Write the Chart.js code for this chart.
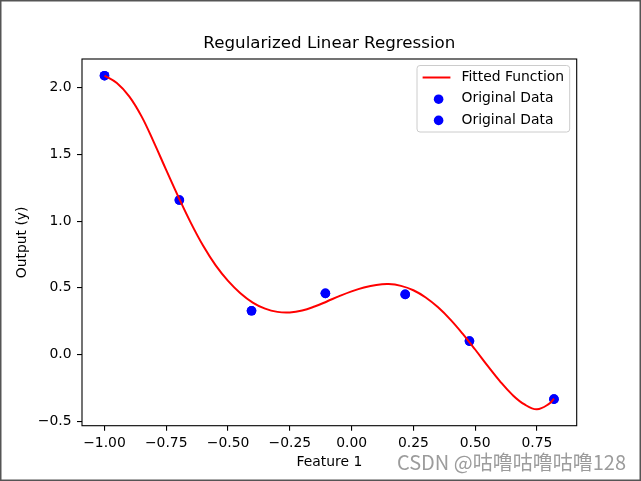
<!DOCTYPE html>
<html>
<head>
<meta charset="utf-8">
<script src="https://cdn.jsdelivr.net/npm/chart.js@4"></script>
<style>
  html, body { margin: 0; padding: 0; background: #fff; }
  #wrap { width: 641px; height: 481px; }
</style>
</head>
<body>
<div id="wrap"><canvas id="regChart" width="641" height="481"></canvas></div>
<script>
// original samples
const dataX = [-1.0, -0.697, -0.405, -0.106, 0.217, 0.477, 0.819];
const dataY = [2.09, 1.158, 0.328, 0.459, 0.451, 0.101, -0.334];

// fitted curve
const fitX = [-1.0, -0.95, -0.9, -0.85, -0.8, -0.75, -0.7, -0.65, -0.6, -0.55,
              -0.5, -0.45, -0.4, -0.35, -0.3, -0.25, -0.2, -0.15, -0.1, -0.05,
              0.0, 0.05, 0.1, 0.15, 0.2, 0.25, 0.3, 0.35, 0.4, 0.45,
              0.5, 0.55, 0.6, 0.65, 0.7, 0.75, 0.8, 0.819];
const fitY = [2.091, 2.035, 1.935, 1.785, 1.590, 1.382, 1.178, 0.985, 0.813, 0.668,
              0.552, 0.460, 0.390, 0.344, 0.320, 0.316, 0.330, 0.360, 0.398, 0.438,
              0.474, 0.503, 0.522, 0.528, 0.515, 0.482, 0.428, 0.354, 0.262, 0.155,
              0.038, -0.083, -0.199, -0.300, -0.374, -0.410, -0.368, -0.330];

const xTicks = [-1.0, -0.75, -0.5, -0.25, 0.0, 0.25, 0.5, 0.75];
const yTicks = [-0.5, 0.0, 0.5, 1.0, 1.5, 2.0];

const FONT = "'DejaVu Sans', 'Liberation Sans', sans-serif";

function fmt(v, d) {
    const s = Math.abs(v).toFixed(d);
    return (v < 0 && Number(s) !== 0 ? '\u2212' : '') + s;
}

// title, spines, in-axes legend, watermark and outer frame
const decorations = {
    id: 'decorations',
    afterDraw(chart) {
        const c = chart.ctx;
        const a = chart.chartArea;
        c.save();

        // spines
        c.strokeStyle = '#000';
        c.lineWidth = 1.1;
        c.strokeRect(a.left, a.top, a.right - a.left, a.bottom - a.top);

        // title
        c.fillStyle = '#000';
        c.font = '16.7px ' + FONT;
        c.textAlign = 'center';
        c.textBaseline = 'middle';
        c.fillText('Regularized Linear Regression', (a.left + a.right) / 2, 44);

        // legend
        const ds = chart.data.datasets;
        c.font = '13.9px ' + FONT;
        let tw = 0;
        ds.forEach(d => { tw = Math.max(tw, c.measureText(d.label).width); });
        const boxR = a.right - 7;
        const boxW = 5.6 + 27.8 + 11.1 + tw + 5.6;
        const boxL = boxR - boxW;
        const boxT = 65.5, rowH = 21.2, boxH = 66.5;
        c.fillStyle = 'rgba(255,255,255,0.8)';
        c.strokeStyle = '#cccccc';
        c.lineWidth = 1;
        c.beginPath();
        c.roundRect(boxL, boxT, boxW, boxH, 3);
        c.fill();
        c.stroke();
        ds.forEach((d, i) => {
            const y = boxT + 12 + i * rowH;
            const hx = boxL + 5.6;
            if (d.showLine) {
                c.strokeStyle = d.borderColor;
                c.lineWidth = d.borderWidth;
                c.beginPath();
                c.moveTo(hx, y);
                c.lineTo(hx + 27.8, y);
                c.stroke();
            } else {
                c.fillStyle = d.backgroundColor;
                c.beginPath();
                c.arc(hx + 16, y + 0.5, d.pointRadius, 0, Math.PI * 2);
                c.fill();
            }
            c.fillStyle = '#000';
            c.textAlign = 'left';
            c.textBaseline = 'middle';
            c.fillText(d.label, hx + 27.8 + 11.1, y);
        });

        // watermark
        c.font = "20px 'Noto Sans CJK SC', sans-serif";
        c.fillStyle = '#9c9c9c';
        c.textAlign = 'right';
        c.textBaseline = 'middle';
        c.fillText('CSDN @咕噜咕噜咕噜128', 626, 462);

        // outer frame of the screenshot
        c.strokeStyle = '#555';
        c.lineWidth = 1.5;
        c.strokeRect(0.75, 0.75, 639.5, 479.5);
        c.restore();
    }
};

document.addEventListener("DOMContentLoaded", function () {
    const ctx = document.getElementById('regChart').getContext('2d');

    const fitted = fitX.map((x, i) => ({ x: x, y: fitY[i] }));
    const points = dataX.map((x, i) => ({ x: x, y: dataY[i] }));

    new Chart(ctx, {
        type: 'scatter',
        data: {
            datasets: [{
                label: 'Fitted Function',
                data: fitted,
                showLine: true,
                borderColor: '#ff0000',
                backgroundColor: '#ff0000',
                borderWidth: 2,
                pointRadius: 0,
                tension: 0.4
            }, {
                label: 'Original Data',
                data: points,
                backgroundColor: '#0000ff',
                borderColor: '#0000ff',
                borderWidth: 0,
                pointRadius: 4.8
            }, {
                label: 'Original Data',
                data: points,
                backgroundColor: '#0000ff',
                borderColor: '#0000ff',
                borderWidth: 0,
                pointRadius: 4.8
            }]
        },
        options: {
            responsive: false,
            animation: false,
            layout: {
                padding: { top: 59, right: 64.3, bottom: 0, left: 0 }
            },
            plugins: {
                legend: { display: false },
                tooltip: { enabled: false },
                title: { display: false }
            },
            scales: {
                x: {
                    type: 'linear',
                    min: -1.091,
                    max: 0.911,
                    afterBuildTicks: s => { s.ticks = xTicks.map(v => ({ value: v })); },
                    afterFit: s => { s.height = 55.3; },
                    ticks: {
                        color: '#000',
                        padding: 4,
                        maxRotation: 0,
                        font: { family: FONT, size: 13.9 },
                        callback: v => fmt(v, 2)
                    },
                    grid: { drawOnChartArea: false, drawTicks: true, tickLength: 5, color: '#000', lineWidth: 1.1 },
                    border: { display: false },
                    title: {
                        display: true,
                        text: 'Feature 1',
                        color: '#000',
                        font: { family: FONT, size: 13.9 },
                        padding: { top: 0, bottom: 10.7 }
                    }
                },
                y: {
                    type: 'linear',
                    min: -0.533,
                    max: 2.215,
                    afterBuildTicks: s => { s.ticks = yTicks.map(v => ({ value: v })); },
                    afterFit: s => { s.width = 82; },
                    ticks: {
                        color: '#000',
                        padding: 5.5,
                        font: { family: FONT, size: 13.9 },
                        callback: v => fmt(v, 1)
                    },
                    grid: { drawOnChartArea: false, drawTicks: true, tickLength: 5, color: '#000', lineWidth: 1.1 },
                    border: { display: false },
                    title: {
                        display: true,
                        text: 'Output (y)',
                        color: '#000',
                        font: { family: FONT, size: 13.9 },
                        padding: { top: 14, bottom: 0 }
                    }
                }
            }
        },
        plugins: [decorations]
    });
});
</script>
</body>
</html>
